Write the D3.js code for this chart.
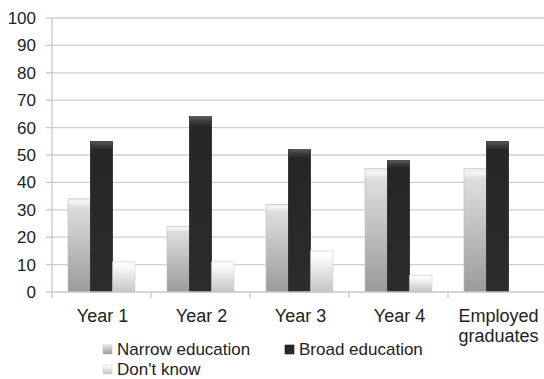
<!DOCTYPE html>
<html>
<head>
<meta charset="utf-8">
<script src="https://cdn.jsdelivr.net/npm/d3@7"></script>
<style>
  html, body { margin: 0; padding: 0; background: #fff; }
  svg { display: block; font-family: "Liberation Sans", Arial, sans-serif; }
</style>
</head>
<body>
<div id="chart"></div>
<script>
const categories = [['Year 1'], ['Year 2'], ['Year 3'], ['Year 4'], ['Employed', 'graduates']];
const seriesNames = ['Narrow education', 'Broad education', "Don't know"];
const narrow = [34, 24, 32, 45, 45];
const broad  = [55, 64, 52, 48, 55];
const dontKnow = [11, 11, 15, 6, 0];
const yTicks = [0, 10, 20, 30, 40, 50, 60, 70, 80, 90, 100];

const W = 544, H = 379;
const margin = { top: 18, left: 52 };
const plotH = 274;
const plotW = 495;

const svg = d3.select('#chart').append('svg')
  .attr('width', W).attr('height', H);

const defs = svg.append('defs');
function grad(id, stops) {
  const g = defs.append('linearGradient').attr('id', id)
    .attr('x1', 0).attr('y1', 0).attr('x2', 0).attr('y2', 1);
  stops.forEach(s => g.append('stop').attr('offset', s[0]).attr('stop-color', s[1]));
}
grad('gNarrow', [[0, '#ececec'], [0.04, '#f4f4f4'], [0.08, '#dedede'], [1, '#9a9a9a']]);
grad('gBroad', [[0, '#5a5a5a'], [0.03, '#3a3a3a'], [0.06, '#262626'], [1, '#2c2c2c']]);
grad('gDk', [[0, '#f4f4f4'], [0.06, '#ffffff'], [0.15, '#fbfbfb'], [1, '#c4c4c4']]);
const fills = ['url(#gNarrow)', 'url(#gBroad)', 'url(#gDk)'];
const strokes = ['#bdbdbd', '#1a1a1a', '#cfcfcf'];

const g = svg.append('g').attr('transform', `translate(${margin.left},${margin.top})`);

const x = d3.scaleBand().domain(d3.range(categories.length)).range([0, plotW]);
const xs = d3.scaleBand().domain(d3.range(3)).range([16, x.bandwidth() - 16]);
const y = d3.scaleLinear().domain([0, 100]).range([plotH, 0]);

// gridlines
g.selectAll('.grid').data(yTicks.filter(d => d > 0)).enter().append('line')
  .attr('x1', 0).attr('x2', plotW)
  .attr('y1', d => y(d)).attr('y2', d => y(d))
  .attr('stroke', '#cfcfcf').attr('stroke-width', 1.3);

// y tick marks
g.selectAll('.ytick').data(yTicks).enter().append('line')
  .attr('x1', -6).attr('x2', 0)
  .attr('y1', d => y(d)).attr('y2', d => y(d))
  .attr('stroke', '#c8c8c8').attr('stroke-width', 1.3);

// y labels
g.selectAll('.ylab').data(yTicks).enter().append('text')
  .attr('x', -16).attr('y', d => y(d)).attr('dy', '0.35em')
  .attr('text-anchor', 'end').attr('font-size', 17).attr('fill', '#222')
  .text(d => d);

// y axis line
g.append('line').attr('x1', 0).attr('x2', 0).attr('y1', 0).attr('y2', plotH)
  .attr('stroke', '#c8c8c8').attr('stroke-width', 1.3);

// bars
const data = [narrow, broad, dontKnow];
categories.forEach((c, i) => {
  data.forEach((arr, s) => {
    const v = arr[i];
    if (!v) return;
    g.append('rect')
      .attr('x', x(i) + xs(s)).attr('width', xs.bandwidth())
      .attr('y', y(v)).attr('height', plotH - y(v))
      .attr('fill', fills[s]).attr('stroke', strokes[s]).attr('stroke-width', 0.6);
  });
});

// x axis line and ticks
g.append('line').attr('x1', 0).attr('x2', plotW).attr('y1', plotH).attr('y2', plotH)
  .attr('stroke', '#c8c8c8').attr('stroke-width', 1.3);
d3.range(categories.length + 1).forEach(i => {
  const xx = i * x.step();
  g.append('line').attr('x1', xx).attr('x2', xx).attr('y1', plotH).attr('y2', plotH + 6)
    .attr('stroke', '#c8c8c8').attr('stroke-width', 1.3);
});

// x labels
categories.forEach((c, i) => {
  const cx = x(i) + x.bandwidth() / 2 + 1;
  const t = g.append('text').attr('text-anchor', 'middle')
    .attr('font-size', 18).attr('fill', '#222')
    .attr('x', cx).attr('y', plotH + 30);
  c.forEach((line, k) => {
    t.append('tspan').attr('x', cx).attr('dy', k === 0 ? 0 : 20).text(line);
  });
});

// legend
const legendPos = [[103, 349], [285, 349], [103, 369]];
seriesNames.forEach((name, s) => {
  const [lx, ly] = legendPos[s];
  svg.append('rect').attr('x', lx).attr('y', ly - 4).attr('width', 9).attr('height', 9)
    .attr('fill', fills[s]).attr('stroke', strokes[s]).attr('stroke-width', 0.6);
  svg.append('text').attr('x', lx + 14).attr('y', ly).attr('dy', '0.35em')
    .attr('font-size', 17).attr('fill', '#222').text(name);
});
</script>
</body>
</html>
